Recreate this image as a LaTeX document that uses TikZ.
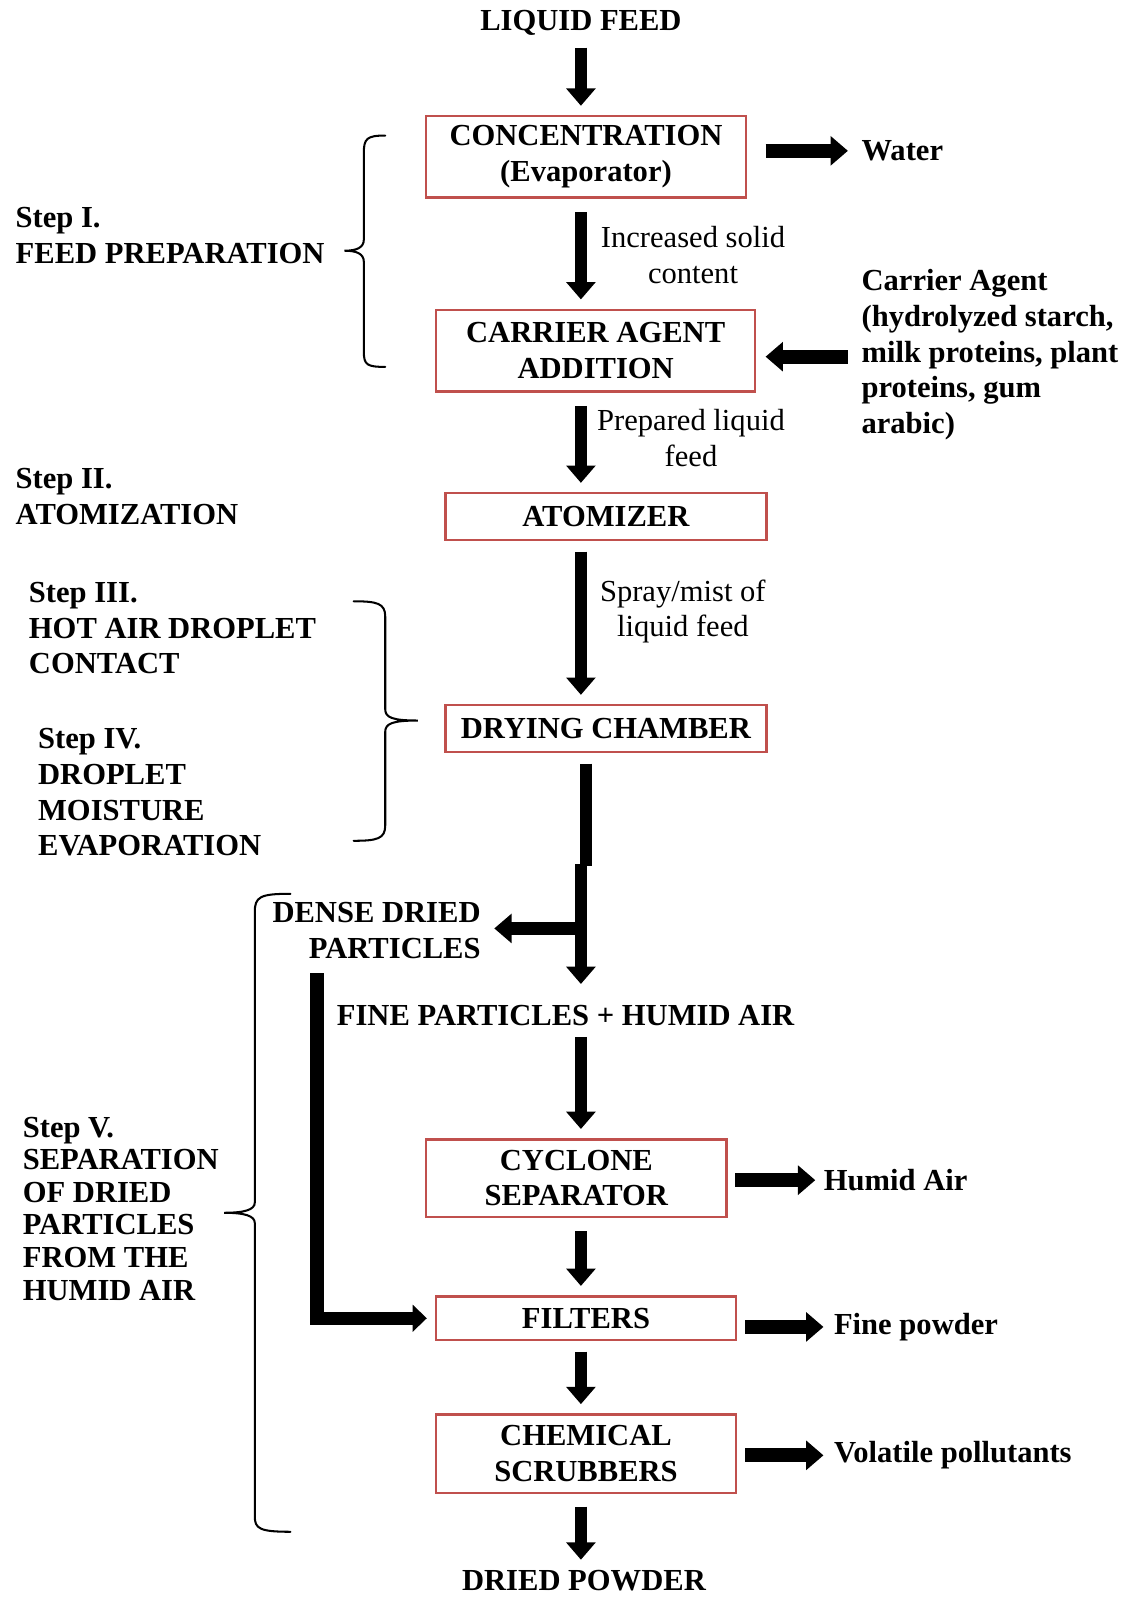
\documentclass[tikz,border=0pt]{standalone}
\usepackage{fontspec}
\setmainfont{Liberation Serif}
\usetikzlibrary{arrows.meta,calc}
\definecolor{boxred}{RGB}{192,80,77}
\begin{document}
\begin{tikzpicture}[x=0.5pt,y=-0.5pt,
  box/.style={draw=boxred, line width=1.2pt, align=center, inner sep=0pt, font=\fontsize{15}{17.5}\selectfont\bfseries},
  txt/.style={inner sep=0pt, font=\fontsize{15}{17.5}\selectfont\bfseries},
  lbl/.style={inner sep=0pt, align=center, font=\fontsize{15}{17.5}\selectfont},
  varrow/.style={line width=6pt, -{Triangle[width=14pt,length=8.5pt]}, shorten <=6.5pt, shorten >=4.5pt},
  harrow/.style={line width=7pt, -{Triangle[width=14pt,length=8.5pt]}},
  shaft/.style={line width=6pt},
  brace/.style={line width=1pt, line cap=round}]
\useasboundingbox (0,0) rectangle (1104,1568);
\coordinate (ax) at (570,0);
\coordinate (bx) at (575,0);

% main column
\node[txt] (feed) at (570,22) {LIQUID FEED};
\node[box, minimum width=157pt, minimum height=40pt] (conc) at (575,154) {CONCENTRATION\\(Evaporator)};
\node[box, minimum width=156.5pt, minimum height=40pt] (carrier) at (584.5,344) {CARRIER AGENT\\ADDITION};
\node[box, minimum width=157.5pt, minimum height=23pt] (atom) at (594.5,507) {ATOMIZER};
\node[box, minimum width=157.5pt, minimum height=23pt] (dry) at (594.5,715) {DRYING CHAMBER};
\node[txt, align=right, anchor=east] (dense) at (472,913) {DENSE DRIED\\PARTICLES};
\node[txt] (fine) at (555,996) {FINE PARTICLES + HUMID AIR};
\node[box, minimum width=147.5pt, minimum height=38pt] (cyc) at (565.5,1156) {CYCLONE\\SEPARATOR};
\node[box, minimum width=147pt, minimum height=21.5pt] (filt) at (575,1293.5) {FILTERS};
\node[box, minimum width=147pt, minimum height=38.5pt] (chem) at (575,1426.5) {CHEMICAL\\SCRUBBERS};
\node[txt] (dried) at (573,1551) {DRIED POWDER};

% side outputs
\node[txt, anchor=west] (water) at (845,148) {Water};
\node[txt, align=left, anchor=west] (catext) at (845,348) {Carrier Agent\\(hydrolyzed starch,\\milk proteins, plant\\proteins, gum\\arabic)};
\node[txt, anchor=west] (hair) at (808,1158) {Humid Air};
\node[txt, anchor=west] (fpow) at (818,1302) {Fine powder};
\node[txt, anchor=west] (vol) at (818,1428) {Volatile pollutants};

% arrow labels
\node[lbl] (l1) at (680,250) {Increased solid\\content};
\node[lbl] (l2) at (678,430) {Prepared liquid\\feed};
\node[lbl] (l3) at (670,600) {Spray/mist of\\liquid feed};

% step labels
\node[txt, align=left, anchor=west] (s1) at (15,231) {Step I.\\FEED PREPARATION};
\node[txt, align=left, anchor=west] (s2) at (15,487) {Step II.\\ATOMIZATION};
\node[txt, align=left, anchor=west] (s3) at (28,616.5) {Step III.\\HOT AIR DROPLET\\CONTACT};
\node[txt, align=left, anchor=west] (s4) at (37,777.5) {Step IV.\\DROPLET\\MOISTURE\\EVAPORATION};
\node[txt, align=left, anchor=west, font=\fontsize{15}{16}\selectfont\bfseries] (s5) at (22,1186) {Step V.\\SEPARATION\\OF DRIED\\PARTICLES\\FROM THE\\HUMID AIR};

% vertical arrows
\draw[varrow, shorten <=6pt] (feed.south -| ax) -- (conc.north -| ax);
\draw[varrow] (conc.south -| ax) -- (carrier.north -| ax);
\draw[varrow] (carrier.south -| ax) -- (atom.north -| ax);
\draw[varrow, shorten <=5pt] (atom.south -| ax) -- (dry.north -| ax);
\coordinate (jog) at (575,850);
\coordinate (jog2) at (570,848);
\draw[shaft, shorten <=5pt] (dry.south -| bx) -- (jog);
\draw[varrow, shorten <=0pt, shorten >=10pt] (jog2) -- (fine.north -| ax);
\coordinate (dj) at (566,911);
\draw[harrow, line width=6.5pt, shorten >=6.5pt] (dj) -- (dense.east |- dj);
\draw[varrow, shorten <=5.5pt] (fine.south -| ax) -- (cyc.north -| ax);
\draw[varrow] (cyc.south -| ax) -- (filt.north -| ax);
\draw[varrow, shorten <=5pt] (filt.south -| ax) -- (chem.north -| ax);
\draw[varrow, shorten <=6pt, shorten >=5pt] (chem.south -| ax) -- (dried.north -| ax);

% dense particles to filters
\coordinate (dl) at (311,955);
\draw[line width=6.5pt, -{Triangle[width=13pt,length=7pt]}, shorten >=4pt] (dl) |- (filt.west);

% side arrows
\draw[harrow, shorten <=9pt, shorten >=6.5pt] (conc.east |- water) -- (water.west);
\draw[harrow, shorten <=6.5pt, shorten >=4.5pt] (catext.west |- 0,350) -- (carrier.east |- 0,350);
\draw[harrow, shorten <=3.5pt, shorten >=4pt] (cyc.east |- hair) -- (hair.west);
\draw[harrow, shorten <=4pt, shorten >=5pt] (filt.east |- fpow) -- (fpow.west);
\draw[harrow, shorten <=4pt, shorten >=5pt] (chem.east |- vol) -- (vol.west);

% braces
\draw[brace] (378,133) .. controls (360,133) and (357,136) .. (357,150) -- (357,235) .. controls (357,243) and (350,246) .. (338,246) .. controls (350,246) and (357,249) .. (357,257) -- (357,345) .. controls (357,358) and (360,360) .. (378,360);
\draw[brace] (347,590) .. controls (370,590) and (378,592) .. (378,605) -- (378,696) .. controls (378,704) and (385,707) .. (410,707) .. controls (385,707) and (378,710) .. (378,718) -- (378,810) .. controls (378,823) and (370,825) .. (347,825);
\draw[brace] (285,877) .. controls (255,877) and (250,880) .. (250,895) -- (250,1180) .. controls (250,1187) and (240,1190) .. (220,1190) .. controls (240,1190) and (250,1193) .. (250,1200) -- (250,1488) .. controls (250,1500) and (255,1503) .. (285,1503);
\end{tikzpicture}
\end{document}
